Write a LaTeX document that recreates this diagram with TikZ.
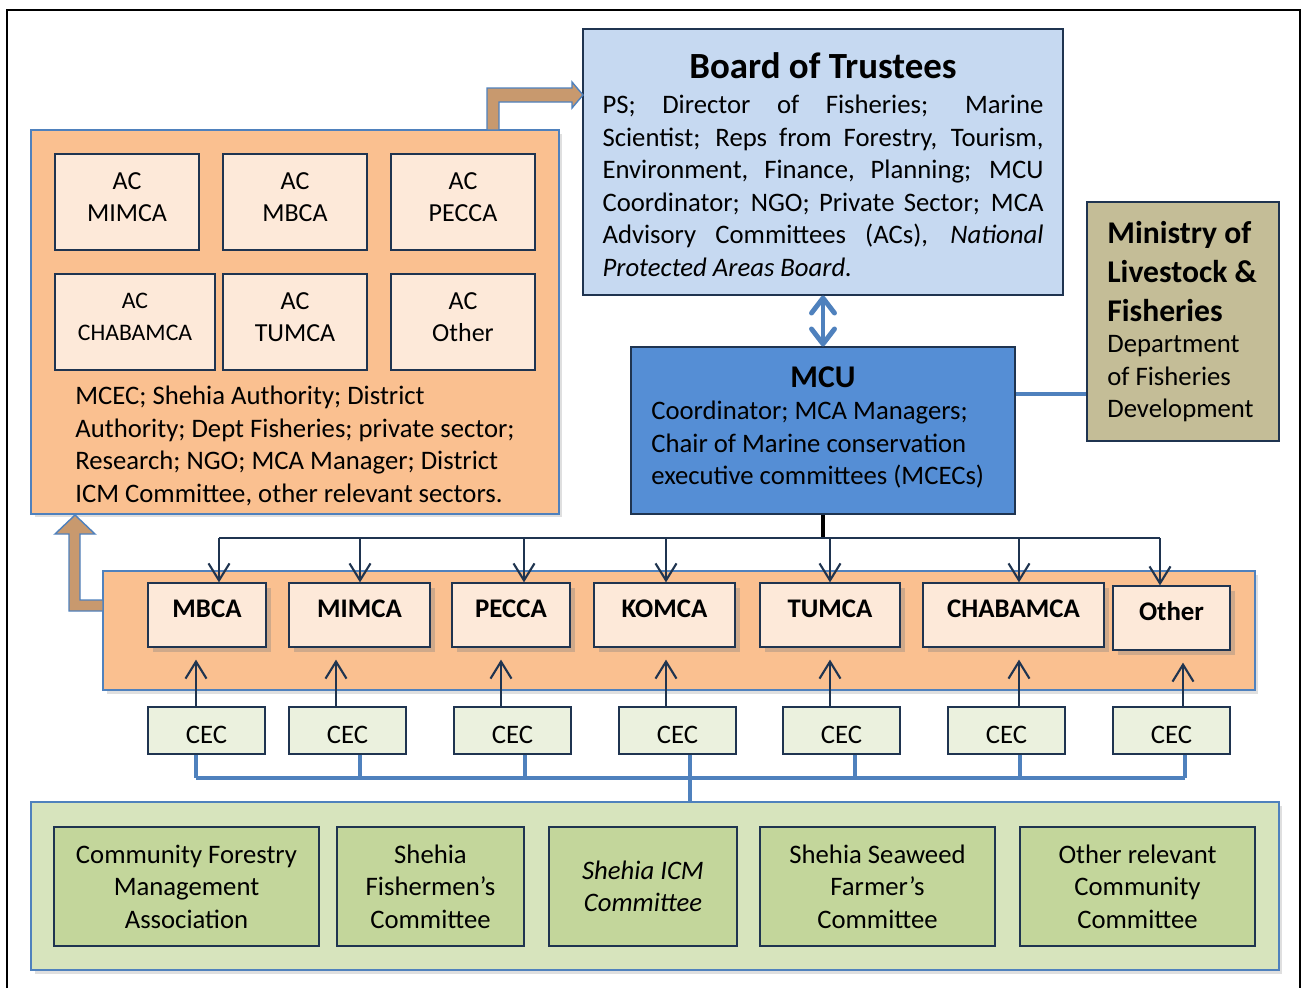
\documentclass[tikz,border=0pt]{standalone}
\usepackage{fontspec}
\setmainfont{Carlito}
\usetikzlibrary{arrows.meta,positioning,shadows}

\definecolor{boardblue}{HTML}{C6D9F1}
\definecolor{mcublue}{HTML}{558ED5}
\definecolor{panelorange}{HTML}{FAC090}
\definecolor{peach}{HTML}{FDE9D9}
\definecolor{ministrytan}{HTML}{C4BD97}
\definecolor{panelgreen}{HTML}{D7E4BD}
\definecolor{boxgreen}{HTML}{C3D69B}
\definecolor{cecgreen}{HTML}{EBF1DE}
\definecolor{edgeblue}{HTML}{4F81BD}
\definecolor{navy}{HTML}{1F3450}
\definecolor{arrowtan}{HTML}{C8996E}

\tikzset{
  box/.style={draw=navy, line width=0.7pt, inner sep=0pt, align=center},
  panel/.style={draw=edgeblue, line width=1pt, inner sep=0pt,
    drop shadow={shadow xshift=2pt, shadow yshift=-2pt, opacity=0.25}},
  acbox/.style={box, fill=peach, minimum width=2.88cm, minimum height=1.92cm},
  acname/.style={align=center, yshift=0.1cm, font=\fontsize{14.8}{18.5}\selectfont},
  cabox/.style={box, fill=peach, minimum height=1.28cm, text height=6.4pt, text depth=3.3pt,
    font=\bfseries\fontsize{15.3}{17}\selectfont,
    drop shadow={shadow xshift=3pt, shadow yshift=-3pt, opacity=0.35}},
  cecbox/.style={box, fill=cecgreen, minimum width=2.34cm, minimum height=0.94cm,
    text height=14.4pt, text depth=0pt},
  commbox/.style={box, fill=boxgreen, minimum height=2.38cm},
  down/.style={navy, line width=1.2pt, -{Straight Barb[length=0.34cm,width=0.42cm]}},
  bus/.style={edgeblue, line width=2.8pt},
  block/.style={fill=arrowtan, draw=edgeblue, line width=0.8pt},
}

\begin{document}
\begin{tikzpicture}[x=0.02cm, y=-0.02cm, font=\fontsize{15.2}{18.5}\selectfont]
  \useasboundingbox (0,0) rectangle (1305,988);
  \draw[line width=1.3pt] (7,988) -- (7,10) -- (1300,10) -- (1300,988);

  % top part
  \node[box, fill=boardblue, minimum width=9.6cm, minimum height=5.32cm] (board) at (823,162) {};
  \node[font=\bfseries\fontsize{21}{24}\selectfont] (boardtitle) at (823,66) {Board of Trustees};
  \node[text width=8.82cm, align=justify, inner sep=0pt] (boardtext) at (823,186)
    {PS; Director of Fisheries; Marine\linebreak Scientist; Reps from Forestry, Tourism,\linebreak
     Environment, Finance, Planning; MCU\linebreak Coordinator; NGO; Private Sector; MCA\linebreak
     Advisory Committees (ACs), \textit{National}\linebreak \textit{Protected Areas Board.}};

  \node[box, fill=mcublue, minimum width=7.68cm, minimum height=3.34cm] (mcu) at (823,430.5) {};
  \node[font=\bfseries\fontsize{18}{20}\selectfont] (mcutitle) at (823,377) {MCU};
  \node[anchor=west, align=left, inner sep=0pt] (mcutext) at (651,445)
    {Coordinator; MCA Managers;\\Chair of Marine conservation\\executive committees (MCECs)};

  \node[box, fill=ministrytan, minimum width=3.84cm, minimum height=4.78cm] (ministry) at (1183,321.5) {};
  \node[anchor=west, align=left, inner sep=0pt, font=\bfseries\fontsize{18}{22.2}\selectfont] (ministrytitle) at (1107,272)
    {Ministry of\\Livestock \&\\Fisheries};
  \node[anchor=west, align=left, inner sep=0pt] (ministrytext) at (1107,379)
    {Department\\of Fisheries\\Development};

  \draw[bus, {Straight Barb[round,length=0.3cm,width=0.46cm]}-{Straight Barb[round,length=0.3cm,width=0.46cm]}] (board.south) -- (mcu.north);
  \coordinate (mlink) at (1050,394);
  \draw[bus] (mlink -| mcu.east) -- (mlink -| ministry.west);

  % advisory committees
  \node[panel, fill=panelorange, minimum width=10.56cm, minimum height=7.68cm] (acp) at (295,322) {};
  \node[acbox, label={[acname]center:{AC\\MIMCA}}] (acmimca) at (127,202) {};
  \node[acbox, label={[acname]center:{AC\\MBCA}}] (acmbca) at (295,202) {};
  \node[acbox, label={[acname]center:{AC\\PECCA}}] (acpecca) at (463,202) {};
  \node[acbox, minimum width=3.2cm, label={[acname, font=\fontsize{13.5}{18.5}\selectfont]center:{AC\\CHABAMCA}}] (acchabamca) at (135,322) {};
  \node[acbox, label={[acname]center:{AC\\TUMCA}}] (actumca) at (295,322) {};
  \node[acbox, label={[acname]center:{AC\\Other}}] (acother) at (463,322) {};
  \node[anchor=west, align=left, inner sep=0pt] (actext) at (75,446)
    {MCEC; Shehia Authority; District\\Authority; Dept Fisheries; private sector;\\
     Research; NGO; MCA Manager; District\\ICM Committee, other relevant sectors.};

  \draw[block] (487,130) -- (487,88) -- (572,88) -- (572,82) -- (583,95) -- (572,108)
    -- (572,102) -- (499,102) -- (499,130) -- cycle;

  % conservation areas
  \node[panel, fill=panelorange, minimum width=23.04cm, minimum height=2.38cm] (cap) at (679,630.5) {};
  \foreach \n/\x/\w/\t in {mbca/207/2.36/MBCA, mimca/359.5/2.82/MIMCA, pecca/511/2.36/PECCA,
      komca/664.5/2.82/KOMCA, tumca/830/2.8/TUMCA, chabamca/1013.5/3.62/CHABAMCA}
    \node[cabox, minimum width=\w cm] (\n) at (\x,615) {\t};
  \node[cabox, minimum width=2.34cm] (other) at (1171.5,618) {Other};

  \draw[block] (103,600) -- (80,600) -- (80,534) -- (95,534) -- (75,515) -- (55,534)
    -- (69,534) -- (69,611) -- (103,611) -- cycle;

  \coordinate (busmid) at (823,538);
  \draw[black, line width=2.8pt] (mcu.south) -- (busmid);
  \foreach \n/\x in {mbca/219, mimca/360, pecca/524, komca/666, tumca/830, chabamca/1019, other/1160}
    {\coordinate (top-\n) at (\x,538);
     \draw[down] (top-\n) -- (top-\n |- \n.north);}
  \draw[navy, line width=0.8pt] (top-mbca) -- (top-other);

  % CECs
  \foreach \i/\x in {1/206.5, 2/347.5, 3/512.5, 4/677.5, 5/841.5, 6/1006.5, 7/1171.5}
    \node[cecbox] (cec\i) at (\x,730.5) {CEC};
  \foreach \i/\x/\n in {1/196/mbca, 2/336/mimca, 3/501/pecca, 4/666/komca, 5/830/tumca, 6/1019/chabamca, 7/1183/other}
    {\coordinate (up\i) at (\x,0);
     \draw[down, shorten >=0.24cm] (up\i |- cec\i.north) -- (up\i |- \n.south);}

  % community level
  \node[panel, fill=panelgreen, minimum width=24.96cm, minimum height=3.36cm] (comp) at (655,886) {};
  \coordinate (busline) at (690,778);
  \foreach \i/\x in {1/196, 2/360, 3/525, 4/690, 5/855, 6/1020, 7/1185}
    {\coordinate (bus\i) at (\x,778);
     \draw[bus] (bus\i |- cec\i.south) -- (bus\i);}
  \draw[bus] (bus1) -- (bus7);
  \draw[bus] (busline) -- (busline |- comp.north);

  \node[commbox, minimum width=5.3cm] (forestry) at (186.5,886.5) {Community Forestry\\Management\\Association};
  \node[commbox, minimum width=3.74cm] (fishermen) at (430.5,886.5) {Shehia\\Fishermen’s\\Committee};
  \node[commbox, minimum width=3.76cm, font=\itshape\fontsize{15.2}{18.5}\selectfont] (icm) at (643,886.5) {Shehia ICM\\Committee};
  \node[commbox, minimum width=4.7cm] (seaweed) at (877.5,886.5) {Shehia Seaweed\\Farmer’s\\Committee};
  \node[commbox, minimum width=4.7cm] (othercomm) at (1137.5,886.5) {Other relevant\\Community\\Committee};
\end{tikzpicture}
\end{document}
